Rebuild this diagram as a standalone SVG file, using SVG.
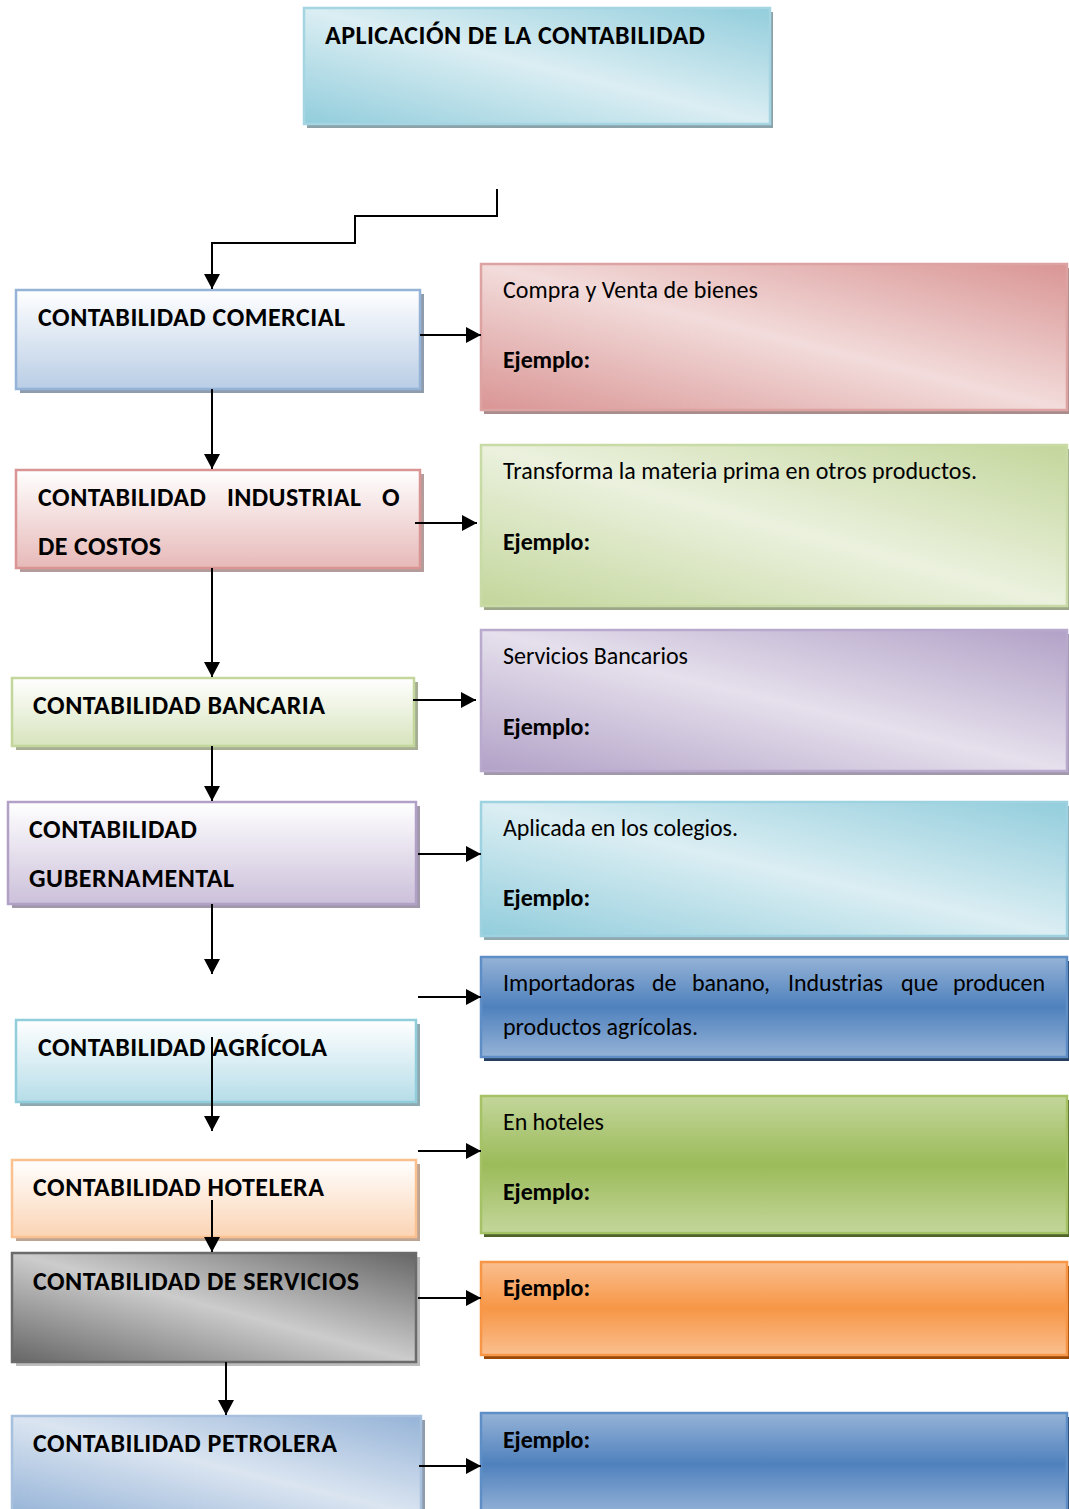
<svg xmlns="http://www.w3.org/2000/svg" width="1069" height="1509" viewBox="0 0 1069 1509">
  <defs>
    <!-- diagonal "shine" fills: dark corners top-right / bottom-left, light centre -->
    <linearGradient id="gTeal" x1="1" y1="0" x2="0" y2="1">
      <stop offset="0" stop-color="#92cddc"/><stop offset="0.5" stop-color="#dbeef3"/><stop offset="1" stop-color="#92cddc"/>
    </linearGradient>
    <linearGradient id="gPink" x1="1" y1="0" x2="0" y2="1">
      <stop offset="0" stop-color="#d99594"/><stop offset="0.5" stop-color="#f2dcdb"/><stop offset="1" stop-color="#d99594"/>
    </linearGradient>
    <linearGradient id="gOlive" x1="1" y1="0" x2="0" y2="1">
      <stop offset="0" stop-color="#c3d69b"/><stop offset="0.5" stop-color="#ebf1de"/><stop offset="1" stop-color="#c3d69b"/>
    </linearGradient>
    <linearGradient id="gLilac" x1="1" y1="0" x2="0" y2="1">
      <stop offset="0" stop-color="#b2a1c7"/><stop offset="0.5" stop-color="#e5e0ec"/><stop offset="1" stop-color="#b2a1c7"/>
    </linearGradient>
    <linearGradient id="gGray" x1="1" y1="0" x2="0" y2="1">
      <stop offset="0" stop-color="#666666"/><stop offset="0.5" stop-color="#cccccc"/><stop offset="1" stop-color="#666666"/>
    </linearGradient>
    <linearGradient id="gSky" x1="1" y1="0" x2="0" y2="1">
      <stop offset="0" stop-color="#95b3d7"/><stop offset="0.5" stop-color="#dbe5f1"/><stop offset="1" stop-color="#95b3d7"/>
    </linearGradient>
    <!-- vertical fades, white to tint -->
    <linearGradient id="vBlue" x1="0" y1="0" x2="0" y2="1"><stop offset="0" stop-color="#ffffff"/><stop offset="1" stop-color="#b9cde5"/></linearGradient>
    <linearGradient id="vRose" x1="0" y1="0" x2="0" y2="1"><stop offset="0" stop-color="#ffffff"/><stop offset="1" stop-color="#e6b9b8"/></linearGradient>
    <linearGradient id="vOlive" x1="0" y1="0" x2="0" y2="1"><stop offset="0" stop-color="#ffffff"/><stop offset="1" stop-color="#d7e4bd"/></linearGradient>
    <linearGradient id="vLilac" x1="0" y1="0" x2="0" y2="1"><stop offset="0" stop-color="#ffffff"/><stop offset="1" stop-color="#ccc0da"/></linearGradient>
    <linearGradient id="vTeal" x1="0" y1="0" x2="0" y2="1"><stop offset="0" stop-color="#ffffff"/><stop offset="1" stop-color="#b6dde8"/></linearGradient>
    <linearGradient id="vPeach" x1="0" y1="0" x2="0" y2="1"><stop offset="0" stop-color="#ffffff"/><stop offset="1" stop-color="#fbd4b4"/></linearGradient>
    <!-- vertical bands, light edges and saturated middle -->
    <linearGradient id="bBlue" x1="0" y1="0" x2="0" y2="1"><stop offset="0" stop-color="#95b3d7"/><stop offset="0.5" stop-color="#4f81bd"/><stop offset="1" stop-color="#95b3d7"/></linearGradient>
    <linearGradient id="bGreen" x1="0" y1="0" x2="0" y2="1"><stop offset="0" stop-color="#c3d69b"/><stop offset="0.5" stop-color="#9bbb59"/><stop offset="1" stop-color="#c3d69b"/></linearGradient>
    <linearGradient id="bOrange" x1="0" y1="0" x2="0" y2="1"><stop offset="0" stop-color="#fabf8f"/><stop offset="0.5" stop-color="#f79646"/><stop offset="1" stop-color="#fabf8f"/></linearGradient>
    <marker id="arrow" markerUnits="userSpaceOnUse" markerWidth="16" markerHeight="16" refX="15" refY="8" orient="auto">
      <path d="M0,0 L15,8 L0,16 z" fill="#000"/>
    </marker>
  </defs>
  <style>
    .box { stroke-width: 2.5; }
    .title { font-family: Carlito, Lato, "Liberation Sans", sans-serif; font-weight: 700; font-size: 26px; fill: #000; }
    .body { font-family: Carlito, Lato, "Liberation Sans", sans-serif; font-weight: 400; font-size: 24px; fill: #000; }
    .ex { font-family: Carlito, Lato, "Liberation Sans", sans-serif; font-weight: 700; font-size: 24px; fill: #000; }
    .conn { fill: none; stroke: #000; stroke-width: 2; }
  </style>

  <rect width="1069" height="1509" fill="#ffffff"/>

  <!-- header -->
  <g id="aplicacion">
    <rect x="307" y="12" width="466" height="116" fill="#8ba2a9"/>
    <rect class="box" x="304" y="8" width="466" height="116" fill="url(#gTeal)" stroke="#a5d5e2"/>
    <text class="title" x="325" y="44" textLength="380">APLICACIÓN DE LA CONTABILIDAD</text>
  </g>

  <!-- left column -->
  <g id="comercial">
    <rect x="20" y="294" width="404" height="99" fill="#8e9cae"/>
    <rect class="box" x="16" y="290" width="404" height="99" fill="url(#vBlue)" stroke="#95b3d7"/>
    <text class="title" x="38" y="326" textLength="307">CONTABILIDAD COMERCIAL</text>
  </g>
  <g id="industrial">
    <rect x="20" y="474" width="404" height="98" fill="#b39c9c"/>
    <rect class="box" x="16" y="470" width="404" height="98" fill="url(#vRose)" stroke="#d99594"/>
    <text class="title" x="38" y="506" textLength="168">CONTABILIDAD</text>
    <text class="title" x="227" y="506" textLength="134">INDUSTRIAL</text>
    <text class="title" x="382" y="506">O</text>
    <text class="title" x="38" y="555" textLength="123">DE COSTOS</text>
  </g>
  <g id="bancaria">
    <rect x="16" y="682" width="402" height="68" fill="#a6ae94"/>
    <rect class="box" x="12" y="678" width="402" height="68" fill="url(#vOlive)" stroke="#c3d69b"/>
    <text class="title" x="33" y="714" textLength="292">CONTABILIDAD BANCARIA</text>
  </g>
  <g id="gubernamental">
    <rect x="12" y="806" width="408" height="102" fill="#a198ab"/>
    <rect class="box" x="8" y="802" width="408" height="102" fill="url(#vLilac)" stroke="#b2a1c7"/>
    <text class="title" x="29" y="838" textLength="168">CONTABILIDAD</text>
    <text class="title" x="29" y="887" textLength="205">GUBERNAMENTAL</text>
  </g>
  <g id="agricola">
    <rect x="20" y="1024" width="400" height="82" fill="#8fa9b0"/>
    <rect class="box" x="16" y="1020" width="400" height="82" fill="url(#vTeal)" stroke="#92cddc"/>
    <text class="title" x="38" y="1056" textLength="289">CONTABILIDAD AGRÍCOLA</text>
  </g>
  <g id="hotelera">
    <rect x="16" y="1164" width="404" height="77" fill="#bda593"/>
    <rect class="box" x="12" y="1160" width="404" height="77" fill="url(#vPeach)" stroke="#fac090"/>
    <text class="title" x="33" y="1196" textLength="291">CONTABILIDAD HOTELERA</text>
  </g>
  <g id="servicios">
    <rect x="16" y="1257" width="404" height="109" fill="#bdbdbd"/>
    <rect class="box" x="12" y="1253" width="404" height="109" fill="url(#gGray)" stroke="#6b6b6b"/>
    <text class="title" x="33" y="1290" textLength="326">CONTABILIDAD DE SERVICIOS</text>
  </g>
  <g id="petrolera">
    <rect x="16" y="1420" width="409" height="100" fill="#8e9cae"/>
    <rect class="box" x="12" y="1416" width="409" height="100" fill="url(#gSky)" stroke="#a7c0de"/>
    <text class="title" x="33" y="1452" textLength="304">CONTABILIDAD PETROLERA</text>
  </g>

  <!-- right column -->
  <g id="compra-venta">
    <rect x="484" y="268" width="586" height="146" fill="#a98c8c"/>
    <rect class="box" x="481" y="264" width="586" height="146" fill="url(#gPink)" stroke="#dca3a2"/>
    <text class="body" x="503" y="298" textLength="255">Compra y Venta de bienes</text>
    <text class="ex" x="503" y="368" textLength="87">Ejemplo:</text>
  </g>
  <g id="transforma">
    <rect x="484" y="449" width="586" height="161" fill="#9ea68a"/>
    <rect class="box" x="481" y="445" width="586" height="161" fill="url(#gOlive)" stroke="#c8daa5"/>
    <text class="body" x="503" y="479" textLength="474">Transforma la materia prima en otros productos.</text>
    <text class="ex" x="503" y="550" textLength="87">Ejemplo:</text>
  </g>
  <g id="servicios-bancarios">
    <rect x="484" y="634" width="586" height="141" fill="#a198ab"/>
    <rect class="box" x="481" y="630" width="586" height="141" fill="url(#gLilac)" stroke="#b9aacd"/>
    <text class="body" x="503" y="664" textLength="185">Servicios Bancarios</text>
    <text class="ex" x="503" y="735" textLength="87">Ejemplo:</text>
  </g>
  <g id="colegios">
    <rect x="484" y="806" width="586" height="134" fill="#8fa9b0"/>
    <rect class="box" x="481" y="802" width="586" height="134" fill="url(#gTeal)" stroke="#9ed2e0"/>
    <text class="body" x="503" y="836" textLength="235">Aplicada en los colegios.</text>
    <text class="ex" x="503" y="906" textLength="87">Ejemplo:</text>
  </g>
  <g id="importadoras">
    <rect x="484" y="961" width="586" height="100" fill="#243f60"/>
    <rect class="box" x="481" y="957" width="586" height="100" fill="url(#bBlue)" stroke="#5f8ec7"/>
    <!-- justified line: each word placed at its own x -->
    <text class="body" x="503" y="991" textLength="132">Importadoras</text>
    <text class="body" x="652" y="991">de</text>
    <text class="body" x="692" y="991" textLength="78">banano,</text>
    <text class="body" x="788" y="991" textLength="95">Industrias</text>
    <text class="body" x="901" y="991">que</text>
    <text class="body" x="953" y="991" textLength="92">producen</text>
    <text class="body" x="503" y="1035" textLength="195">productos agrícolas.</text>
  </g>
  <g id="hoteles">
    <rect x="484" y="1100" width="586" height="137" fill="#4f6228"/>
    <rect class="box" x="481" y="1096" width="586" height="137" fill="url(#bGreen)" stroke="#a5c266"/>
    <text class="body" x="503" y="1130" textLength="101">En hoteles</text>
    <text class="ex" x="503" y="1200" textLength="87">Ejemplo:</text>
  </g>
  <g id="ejemplo-servicios">
    <rect x="484" y="1266" width="586" height="93" fill="#984807"/>
    <rect class="box" x="481" y="1262" width="586" height="93" fill="url(#bOrange)" stroke="#f79646"/>
    <text class="ex" x="503" y="1296" textLength="87">Ejemplo:</text>
  </g>
  <g id="ejemplo-petrolera">
    <rect x="484" y="1417" width="586" height="102" fill="#243f60"/>
    <rect class="box" x="481" y="1413" width="586" height="102" fill="url(#bBlue)" stroke="#5f8ec7"/>
    <text class="ex" x="503" y="1448" textLength="87">Ejemplo:</text>
  </g>

  <!-- connectors -->
  <g id="connectors" class="conn">
    <polyline points="497,189 497,216 355,216 355,243 212,243 212,289" marker-end="url(#arrow)"/>
    <line x1="212" y1="389" x2="212" y2="469" marker-end="url(#arrow)"/>
    <line x1="212" y1="568" x2="212" y2="677" marker-end="url(#arrow)"/>
    <line x1="212" y1="746" x2="212" y2="801" marker-end="url(#arrow)"/>
    <line x1="212" y1="904" x2="212" y2="974" marker-end="url(#arrow)"/>
    <line x1="212" y1="1037" x2="212" y2="1131" marker-end="url(#arrow)"/>
    <line x1="212" y1="1200" x2="212" y2="1252" marker-end="url(#arrow)"/>
    <line x1="226" y1="1362" x2="226" y2="1415" marker-end="url(#arrow)"/>
    <line x1="420" y1="335" x2="481" y2="335" marker-end="url(#arrow)"/>
    <line x1="415" y1="523" x2="477" y2="523" marker-end="url(#arrow)"/>
    <line x1="413" y1="700" x2="476" y2="700" marker-end="url(#arrow)"/>
    <line x1="418" y1="854" x2="481" y2="854" marker-end="url(#arrow)"/>
    <line x1="418" y1="997" x2="481" y2="997" marker-end="url(#arrow)"/>
    <line x1="418" y1="1151" x2="481" y2="1151" marker-end="url(#arrow)"/>
    <line x1="418" y1="1298" x2="481" y2="1298" marker-end="url(#arrow)"/>
    <line x1="419" y1="1466" x2="481" y2="1466" marker-end="url(#arrow)"/>
  </g>
</svg>
